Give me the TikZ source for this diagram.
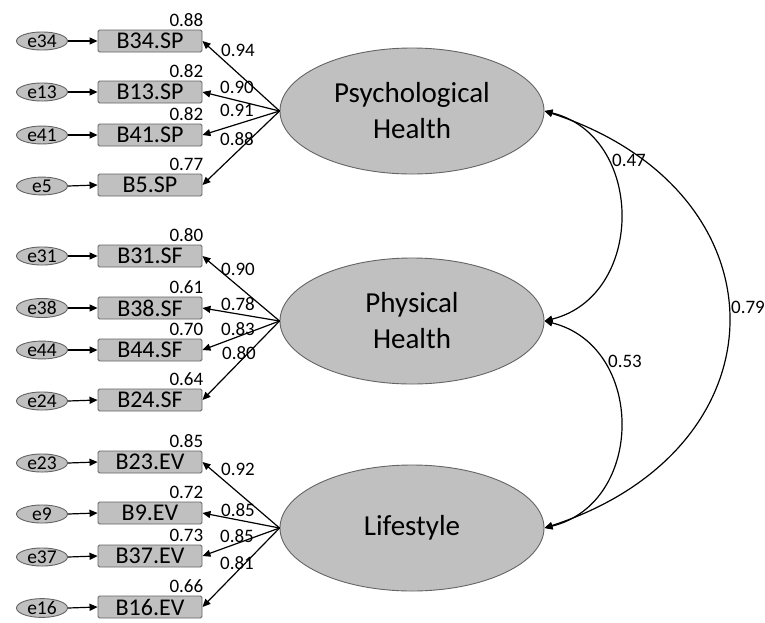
\documentclass[tikz,border=0pt]{standalone}
\usepackage{fontspec}
\setmainfont{Carlito}
\usetikzlibrary{arrows.meta,shapes.geometric,calc}
\definecolor{fillgray}{RGB}{192,192,192}
\definecolor{bordergray}{RGB}{100,100,100}
\begin{document}
\begin{tikzpicture}[x=1pt,y=-1pt,
  obs/.style={rectangle, draw=bordergray, line width=0.9pt, fill=fillgray, minimum width=104pt, minimum height=22pt, inner sep=0pt, rounded corners=1.5pt, font=\fontsize{24}{24}\selectfont},
  err/.style={ellipse, draw=bordergray, line width=0.9pt, fill=fillgray, minimum width=51pt, minimum height=15pt, inner sep=0pt, font=\fontsize{19.5}{19.5}\selectfont},
  lat/.style={ellipse, draw=bordergray, line width=0.9pt, fill=fillgray, minimum width=264pt, minimum height=126pt, inner sep=0pt, align=center, font=\fontsize{29}{36}\selectfont},
  lbl/.style={font=\fontsize{19}{19}\selectfont, inner sep=0pt},
  r2/.style={lbl, anchor=base east, xshift=1pt, yshift=3pt},
  arr/.style={-{Triangle[length=8pt,width=7pt]}, line width=1.2pt},
  cov/.style={{Triangle[length=8pt,width=7pt]}-{Triangle[length=8pt,width=7pt]}, line width=1.2pt},
]
\useasboundingbox (0,0) rectangle (765,622);

% latent variables
\node[lat] (psy) at (412,111) {Psychological\\Health};
\node[lat] (phy) at (412,321) {Physical\\Health};
\node[lat] (lif) at (412,528) {Lifestyle};

% Psychological Health indicators
\node[obs] (b34) at (150,41)  {B34.SP};
\node[obs] (b13) at (150,92)  {B13.SP};
\node[obs] (b41) at (150,135) {B41.SP};
\node[obs] (b5)  at (150,185) {B5.SP};
\node[err] (e34) at (42,41)  {e34};
\node[err] (e13) at (42,92)  {e13};
\node[err] (e41) at (42,135) {e41};
\node[err] (e5)  at (42,186) {e5};
\node[r2] (r34) at (b34.north east) {0.88};
\node[r2] (r13) at (b13.north east) {0.82};
\node[r2] (r41) at (b41.north east) {0.82};
\node[r2] (r5)  at (b5.north east)  {0.77};

% Physical Health indicators
\node[obs] (b31) at (150,256) {B31.SF};
\node[obs] (b38) at (150,308) {B38.SF};
\node[obs] (b44) at (150,350) {B44.SF};
\node[obs] (b24) at (150,400) {B24.SF};
\node[err] (e31) at (42,256) {e31};
\node[err] (e38) at (42,308) {e38};
\node[err] (e44) at (42,350) {e44};
\node[err] (e24) at (42,401) {e24};
\node[r2] (r31) at (b31.north east) {0.80};
\node[r2] (r38) at (b38.north east) {0.61};
\node[r2] (r44) at (b44.north east) {0.70};
\node[r2] (r24) at (b24.north east) {0.64};

% Lifestyle indicators
\node[obs] (b23) at (150,462) {B23.EV};
\node[obs] (b9)  at (150,513) {B9.EV};
\node[obs] (b37) at (150,556) {B37.EV};
\node[obs] (b16) at (150,607) {B16.EV};
\node[err] (e23) at (42,463) {e23};
\node[err] (e9)  at (42,514) {e9};
\node[err] (e37) at (42,557) {e37};
\node[err] (e16) at (42,608) {e16};
\node[r2] (r23) at (b23.north east) {0.85};
\node[r2] (r9)  at (b9.north east)  {0.72};
\node[r2] (r37) at (b37.north east) {0.73};
\node[r2] (r16) at (b16.north east) {0.66};

% error arrows
\foreach \e/\b in {e34/b34,e13/b13,e41/b41,e5/b5,e31/b31,e38/b38,e44/b44,e24/b24,e23/b23,e9/b9,e37/b37,e16/b16}
  \draw[arr] (\e.east) -- (\b.west);

% loadings
\foreach \b in {b34,b13,b41,b5} \draw[arr] (psy.west) -- (\b.east);
\foreach \b in {b31,b38,b44,b24} \draw[arr] (phy.west) -- (\b.east);
\foreach \b in {b23,b9,b37,b16} \draw[arr] (lif.west) -- (\b.east);

\node[lbl] (l34) at (238,50)  {0.94};
\node[lbl] (l13) at (237,87)  {0.90};
\node[lbl] (l41) at (237,110) {0.91};
\node[lbl] (l5)  at (237,139) {0.88};
\node[lbl] (l31) at (238,269) {0.90};
\node[lbl] (l38) at (238,304) {0.78};
\node[lbl] (l44) at (238,329) {0.83};
\node[lbl] (l24) at (239,353) {0.80};
\node[lbl] (l23) at (238,469) {0.92};
\node[lbl] (l9)  at (238,510) {0.85};
\node[lbl] (l37) at (237,536) {0.85};
\node[lbl] (l16) at (237,563) {0.81};

% covariances
\draw[cov] (psy.east) .. controls ($(psy.east)+(101,25)$) and ($(phy.east)+(101,-25)$) .. (phy.east);
\draw[cov] (phy.east) .. controls ($(phy.east)+(101,25)$) and ($(lif.east)+(101,-25)$) .. (lif.east);
\draw[cov] (psy.east) .. controls ($(psy.east)+(245,80)$) and ($(lif.east)+(245,-80)$) .. (lif.east);
\node[lbl] (c1) at (629,160) {0.47};
\node[lbl] (c2) at (625,361) {0.53};
\node[lbl] (c3) at (748,307) {0.79};
\end{tikzpicture}
\end{document}
